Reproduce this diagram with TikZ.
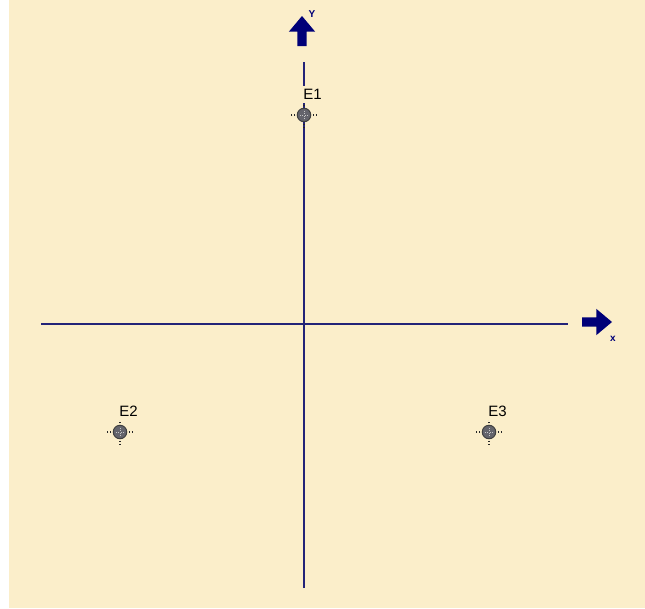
\documentclass[tikz,border=0pt]{standalone}
\usepackage{xcolor}
\usepackage{fontspec}
\setmainfont{Liberation Sans}
\usepackage{tikz}
\usetikzlibrary{shapes.arrows, positioning}
\definecolor{paper}{RGB}{251, 238, 202}
\definecolor{axisblue}{RGB}{35, 35, 120}
\definecolor{navy}{RGB}{0, 0, 120}
\definecolor{dotgray}{RGB}{100, 100, 108}

\begin{document}
\begin{tikzpicture}[x=1pt, y=-1pt,
  axis/.style={draw=axisblue, line width=1.4pt},
  blockarrow/.style={single arrow, fill=navy, draw=none, minimum height=30pt, inner sep=4.5pt, single arrow head extend=8.5pt, single arrow tip angle=80, outer sep=0pt},
  point/.style={circle, draw=black!75, fill=dotgray, line width=1pt, minimum size=13.5pt, inner sep=0pt,
    path picture={\draw[gray!45, line width=0.9pt, dash pattern=on 1pt off 1.5pt] (path picture bounding box.north) -- (path picture bounding box.south) (path picture bounding box.west) -- (path picture bounding box.east);}},
  cross/.style={black!85, line width=1.2pt, dash pattern=on 1.5pt off 1.5pt},
  pointlabel/.style={fill=paper, inner sep=3pt, font=\fontsize{15}{17}\selectfont},
  axislabel/.style={text=navy, inner sep=0pt, font=\fontsize{10}{11}\selectfont\bfseries}
]
  \useasboundingbox (0,0) rectangle (645,608);
  \fill[white] (0,0) rectangle (645,608);
  \fill[paper] (9,0) rectangle (645,608);

  % axes
  \coordinate (xmin) at (41,324);
  \coordinate (xmax) at (568,324);
  \coordinate (ymin) at (304,588);
  \coordinate (ymax) at (304,62);
  \draw[axis] (xmin) -- (xmax);
  \draw[axis] (ymin) -- (ymax);

  \node[blockarrow, anchor=tail] (xarrow) at (582,322) {};
  \node[blockarrow, shape border rotate=90, anchor=tail] (yarrow) at (302,46) {};
  \node[axislabel] (xlbl) at (613,339) {x};
  \node[axislabel] (ylbl) at (312,14) {Y};

  % points
  \node[point] (e1) at (304,115) {};
  \node[point] (e2) at (120,432) {};
  \node[point] (e3) at (489,432) {};
  \foreach \p in {e1,e2,e3} {
    \draw[cross] ([xshift=-1.5pt]\p.west) -- ++(-6pt,0) ([xshift=1.5pt]\p.east) -- ++(6pt,0);
    \draw[cross] ([yshift=1.5pt]\p.north) -- ++(0,6pt) ([yshift=-1.5pt]\p.south) -- ++(0,-6pt);
  }
  \node[pointlabel, above right=7pt and -9pt of e1] (e1lbl) {E1};
  \node[pointlabel, above right=7pt and -9pt of e2] (e2lbl) {E2};
  \node[pointlabel, above right=7pt and -9pt of e3] (e3lbl) {E3};
\end{tikzpicture}
\end{document}
